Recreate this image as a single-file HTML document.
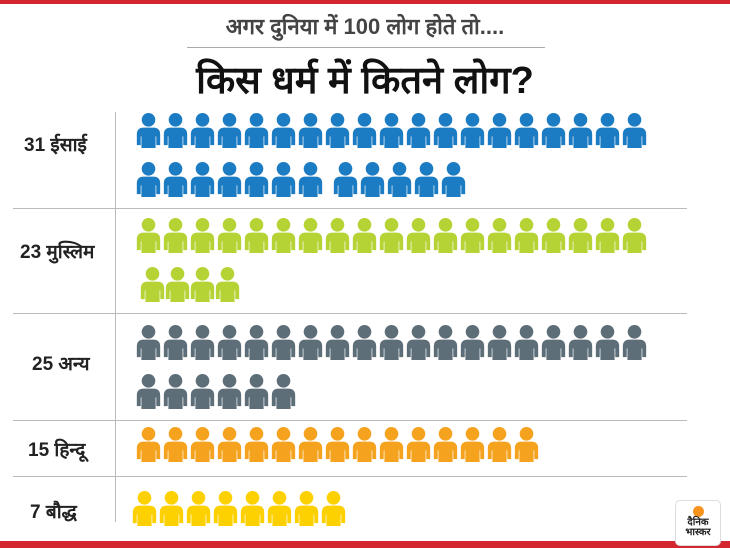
<!DOCTYPE html>
<html><head><meta charset="utf-8"><style>
html,body{margin:0;padding:0;background:#fff;}
#c{position:relative;width:730px;height:548px;overflow:hidden;font-family:"Liberation Sans","Noto Sans CJK SC",sans-serif;}
.lbl{position:absolute;font-size:19px;font-weight:bold;color:#222;white-space:nowrap;font-family:"Liberation Sans","Noto Sans CJK SC","WenQuanYi Zen Hei",sans-serif;}
</style></head><body>
<div id="c">
<div style="position:absolute;left:0;top:0;width:730px;height:4px;background:#d32630"></div>
<div style="position:absolute;left:0;top:541px;width:730px;height:7px;background:#d32630"></div>
<div style="position:absolute;left:0;width:730px;top:11px;text-align:center;font-size:22px;color:#444;font-weight:bold;">अगर दुनिया में 100 लोग होते तो....</div>
<div style="position:absolute;left:187px;top:47px;width:358px;height:1px;background:#aaa"></div>
<div style="position:absolute;left:0;width:730px;top:53px;text-align:center;font-size:38px;color:#111;font-weight:bold;">किस धर्म में कितने लोग?</div>
<div style="position:absolute;left:115px;top:112px;width:1px;height:410px;background:#bbb"></div>
<div style="position:absolute;left:13px;top:208px;width:674px;height:1px;background:#bbb"></div>
<div style="position:absolute;left:13px;top:313px;width:674px;height:1px;background:#bbb"></div>
<div style="position:absolute;left:13px;top:420px;width:674px;height:1px;background:#bbb"></div>
<div style="position:absolute;left:13px;top:476px;width:674px;height:1px;background:#bbb"></div>
<div class="lbl" style="left:24px;top:131px">31 ईसाई</div>
<div class="lbl" style="left:20px;top:238px">23 मुस्लिम</div>
<div class="lbl" style="left:32px;top:350px">25 अन्य</div>
<div class="lbl" style="left:28px;top:436px">15 हिन्दू</div>
<div class="lbl" style="left:30px;top:498px">7 बौद्ध</div>
<svg id="s" width="730" height="548" style="position:absolute;left:0;top:0">
<defs><symbol id="p" viewBox="0 0 24 36">
<circle cx="12" cy="7" r="7"/>
<path d="M0 22 Q0 15 7 15 L17 15 Q24 15 24 22 L24 33 L20 33 L20 24 L19.3 24 L19.3 36 L4.7 36 L4.7 24 L4 24 L4 33 L0 33 Z"/>
</symbol></defs>
</svg>
<div style="position:absolute;left:675px;top:500px;width:44px;height:44px;background:#fff;border:1px solid #ddd;border-radius:5px;text-align:center;">
<div style="width:11px;height:11px;border-radius:50%;background:#f7941d;margin:5px auto 1px"></div>
<div style="font-size:10px;line-height:10px;font-weight:bold;color:#222">दैनिक<br>भास्कर</div>
</div>
</div>
<script>
var s=document.getElementById('s');
function row(col,x0,pitch,y,n,w,h,gapAfter){
 for(var i=0;i<n;i++){var u=document.createElementNS('http://www.w3.org/2000/svg','use');
 var x=x0+i*pitch+(gapAfter&&i>=gapAfter?8:0);
 u.setAttribute('href','#p');u.setAttribute('x',x);u.setAttribute('y',y);u.setAttribute('width',w||25);u.setAttribute('height',h||35);u.setAttribute('fill',col);s.appendChild(u);}
}
var B='#1b7cc3',G='#b5d335',R='#5e6e79',O='#f5a21f',Y='#fdd000';
row(B,136,27,113,19);row(B,136,27,162,12,25,35,7);
row(G,136,27,218,19);row(G,140,25,267,4);
row(R,136,27,325,19);row(R,136,27,374,6);
row(O,136,27,427,15);
row(Y,132,27,491,8);
</script>
</body></html>
